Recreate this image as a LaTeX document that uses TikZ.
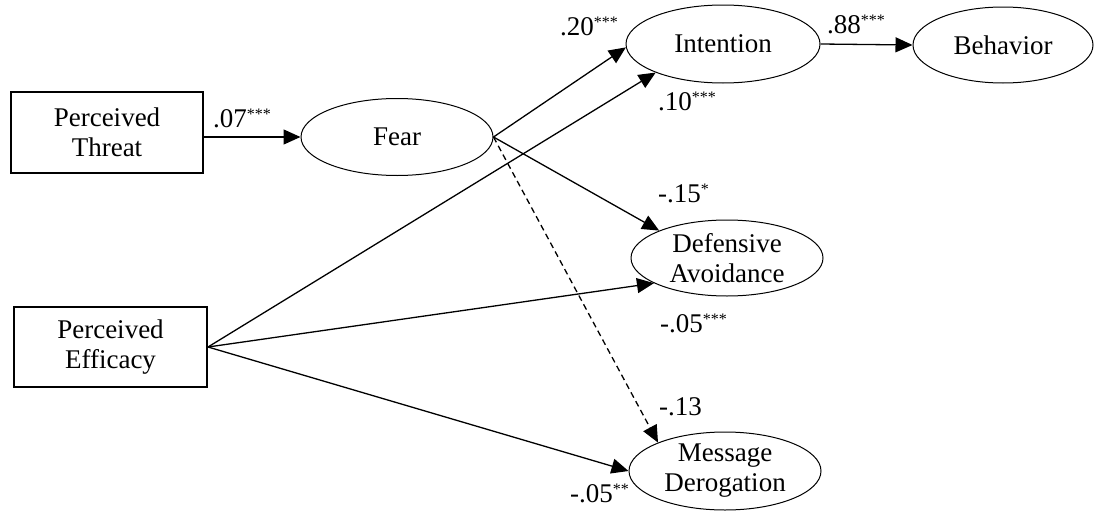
\documentclass[tikz,border=0pt]{standalone}
\usepackage{fontspec}
\setmainfont{Liberation Serif}
\usetikzlibrary{arrows.meta,shapes.geometric}
\newcommand\sigstar[1]{\raisebox{0.62ex}{\fontsize{16}{16}\selectfont #1}}
\begin{document}
\begin{tikzpicture}[x=1pt,y=-1pt,
  every node/.style={font=\fontsize{27}{30}\selectfont},
  boxnode/.style={draw,line width=2pt,rectangle,inner sep=0pt,align=center},
  ovalnode/.style={draw,line width=1pt,ellipse,inner sep=0pt,align=center},
  path/.style={line width=1.3pt,-{Triangle[length=17pt,width=15pt]}},
  coef/.style={anchor=base west,inner sep=0pt}]
\useasboundingbox (0,0) rectangle (1097,514);
\node[boxnode,minimum width=192pt,minimum height=81pt] (thr) at (107,132.5) {Perceived\\Threat};
\node[boxnode,minimum width=193pt,minimum height=80pt] (eff) at (110.5,347) {Perceived\\Efficacy};
\node[ovalnode,minimum width=192pt,minimum height=77pt] (fear) at (397,137) {Fear};
\node[ovalnode,minimum width=194pt,minimum height=78pt] (int) at (723,44) {Intention};
\node[ovalnode,minimum width=180pt,minimum height=76pt] (beh) at (1003,45) {Behavior};
\node[ovalnode,minimum width=192pt,minimum height=76pt] (def) at (727,258) {Defensive\\Avoidance};
\node[ovalnode,minimum width=192pt,minimum height=78pt] (msg) at (725,471) {Message\\Derogation};
\draw[path] (thr.east |- fear.west) -- (fear.west);
\draw[path] (fear.east) -- (int.182);
\draw[path] (eff.east) -- (int.203);
\draw[path] (int.east) -- (beh.west);
\draw[path] (fear.east) -- (def.158);
\draw[path] (eff.east) -- (def.199);
\draw[path,dash pattern=on 6pt off 4pt] (fear.east) -- (msg.157);
\draw[path] (eff.east) -- (msg.180);
\node[coef] (c1) at (213,127) {.07\sigstar{***}};
\node[coef] (c2) at (560,35) {.20\sigstar{***}};
\node[coef] (c3) at (658,110) {.10\sigstar{***}};
\node[coef] (c4) at (827,33) {.88\sigstar{***}};
\node[coef] (c5) at (658,202) {-.15\sigstar{*}};
\node[coef] (c6) at (660,332) {-.05\sigstar{***}};
\node[coef] (c7) at (659,415) {-.13};
\node[coef] (c8) at (570,502) {-.05\sigstar{**}};
\end{tikzpicture}
\end{document}
